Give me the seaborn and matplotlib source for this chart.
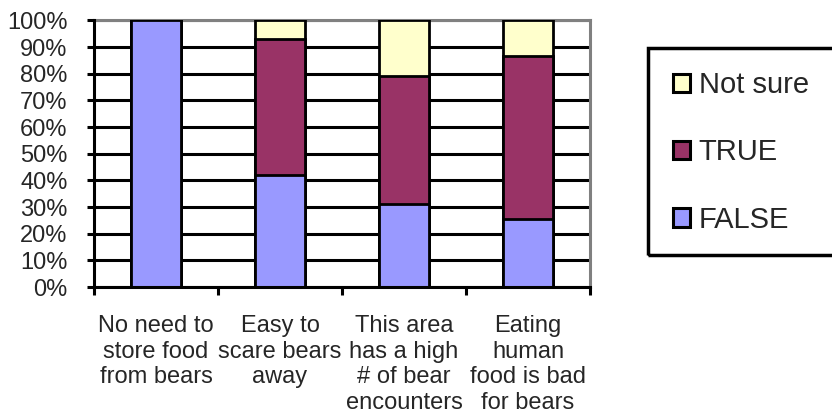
import matplotlib
matplotlib.use("Agg")
import matplotlib.pyplot as plt
import seaborn as sns
import pandas as pd
from matplotlib.patches import Rectangle, Patch

categories = ["No need to\nstore food\nfrom bears",
              "Easy to\nscare bears\naway",
              "This area\nhas a high\n# of bear\nencounters",
              "Eating\nhuman\nfood is bad\nfor bears"]
false_vals = [100, 42, 31, 25.5]
true_vals = [0, 51, 48, 61]
notsure_vals = [0, 7, 21, 13.5]
ytick_vals = [0, 10, 20, 30, 40, 50, 60, 70, 80, 90, 100]
ytick_labels = [f"{v}%" for v in ytick_vals]

colors = {"FALSE": "#9999FF", "TRUE": "#993366", "Not sure": "#FFFFCC"}

sns.set_theme(style="white")
plt.rcParams['font.family'] = ['Liberation Sans', 'DejaVu Sans']

fig = plt.figure(figsize=(8.32, 4.19), dpi=100)
ax = fig.add_axes([94/832, 1-287/419, 496/832, 266.5/419])

df = pd.DataFrame({"cat": categories, "FALSE": false_vals,
                   "TRUE": true_vals, "Not sure": notsure_vals})
df["c1"] = df["FALSE"]
df["c2"] = df["FALSE"] + df["TRUE"]
df["c3"] = df["c2"] + df["Not sure"]

for col, name in [("c3", "Not sure"), ("c2", "TRUE"), ("c1", "FALSE")]:
    sns.barplot(data=df, x="cat", y=col, color=colors[name], edgecolor="black",
                linewidth=2, width=0.41, ax=ax, zorder=3, saturation=1)

ax.set_xlim(-0.5, 3.5)
ax.set_ylim(0, 100)
ax.set_yticks(ytick_vals)
ax.set_yticklabels(ytick_labels, fontsize=17)
ax.set_xlabel("")
ax.set_ylabel("")
ax.set_axisbelow(True)
ax.yaxis.grid(True, color="black", linewidth=2.2)
ax.xaxis.grid(False)

ax.set_xticks(range(len(categories)))
ax.set_xticklabels(categories, fontsize=17)
for t in ax.get_xticklabels():
    t.set_linespacing(1.22)
ax.set_xticks([-0.5, 0.5, 1.5, 2.5, 3.5], minor=True)
ax.tick_params(axis="x", which="major", length=0, pad=20)
ax.tick_params(axis="x", which="minor", length=6, width=2.2, color="black", direction="out", bottom=True)
ax.tick_params(axis="y", length=5, width=2.2, color="black", direction="out", left=True, pad=14)

for s in ["left", "bottom"]:
    ax.spines[s].set_color("black")
    ax.spines[s].set_linewidth(2.2)
    ax.spines[s].set_zorder(4)
for s in ["top", "right"]:
    ax.spines[s].set_color("#808080")
    ax.spines[s].set_linewidth(2.2)

handles = [Patch(facecolor=colors[n], edgecolor="black", linewidth=2.2, label=n)
           for n in ["Not sure", "TRUE", "FALSE"]]
fig.legend(handles=handles, loc="upper left",
           bbox_to_anchor=(673/832, 1-71/419), frameon=False, fontsize=21,
           handlelength=0.58, handleheight=0.58, handletextpad=0.3,
           labelspacing=1.35, borderpad=0, borderaxespad=0)

fig.add_artist(Rectangle((648/832, 1-255/419), (860-648)/832, (255-48)/419,
                         transform=fig.transFigure, fill=False, edgecolor="black",
                         linewidth=2.5, clip_on=False))

fig.savefig("out.png", dpi=100)
